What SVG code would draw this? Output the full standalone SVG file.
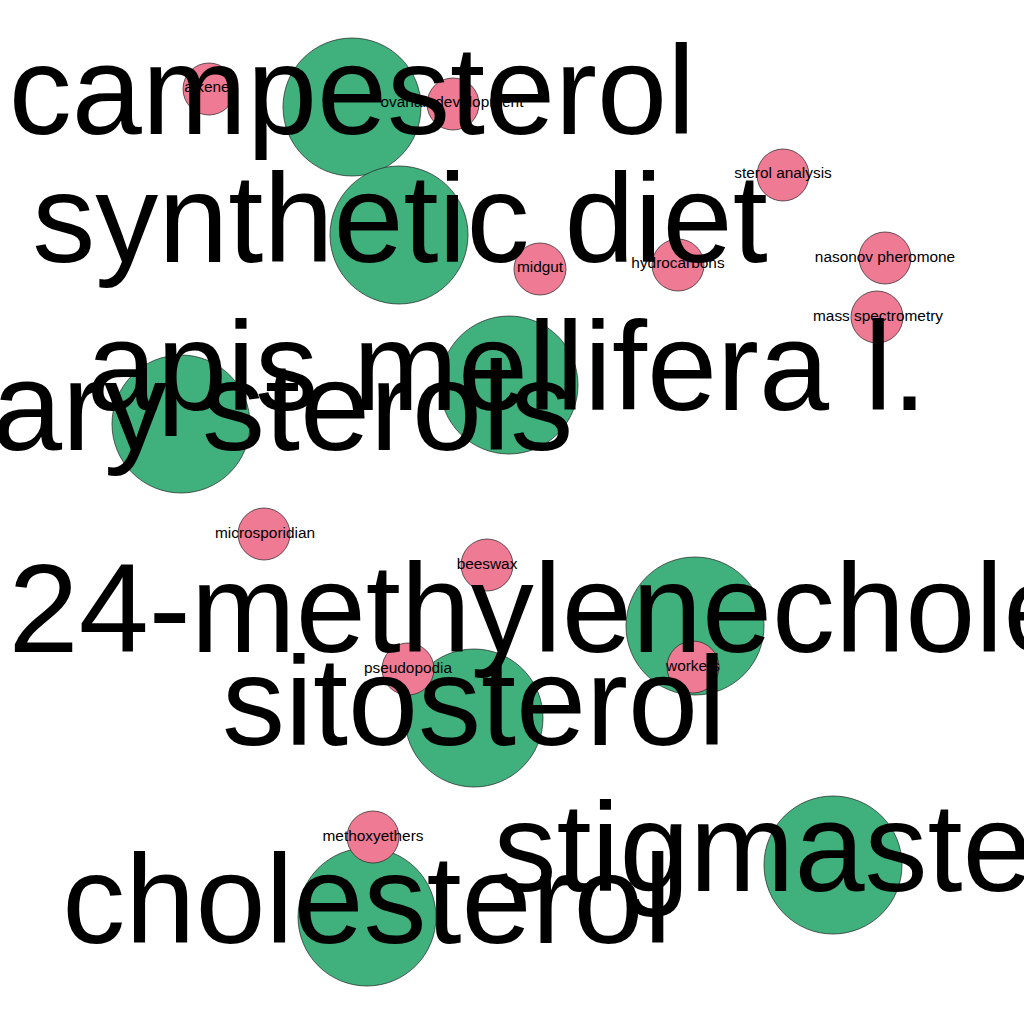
<svg xmlns="http://www.w3.org/2000/svg" width="1024" height="1024" viewBox="0 0 1024 1024">
<style>
.big{fill:#40B07D;stroke:#222;stroke-width:0.7}
.small{fill:#EE7A93;stroke:#222;stroke-width:0.7}
.bl{font-family:"Liberation Sans",Arial,sans-serif;font-size:126px;fill:#000;text-anchor:middle}
.sl{font-family:"Liberation Sans",Arial,sans-serif;font-size:15.4px;fill:#000;text-anchor:middle}
</style>
<rect width="1024" height="1024" fill="#fff"/>
<g id="connectors"/>
<g id="green-nodes">
<g id="node-campesterol"><circle class="big" cx="352" cy="107" r="69"/></g>
<g id="node-synthetic-diet"><circle class="big" cx="399" cy="235" r="69"/></g>
<g id="node-apis-mellifera"><circle class="big" cx="509" cy="385" r="69"/></g>
<g id="node-dietary-sterols"><circle class="big" cx="181" cy="424" r="69"/></g>
<g id="node-24-methylenecholesterol"><circle class="big" cx="695" cy="626" r="69"/></g>
<g id="node-sitosterol"><circle class="big" cx="474" cy="718" r="69"/></g>
<g id="node-stigmasterol"><circle class="big" cx="833" cy="865" r="69"/></g>
<g id="node-cholesterol"><circle class="big" cx="367" cy="917" r="69"/></g>
</g>
<g id="pink-nodes">
<g id="node-alkene"><circle class="small" cx="209" cy="89" r="26"/><text class="sl" x="207" y="92">alkene</text></g>
<g id="node-ovarian-development"><circle class="small" cx="453" cy="104" r="26"/><text class="sl" x="452" y="107">ovarian development</text></g>
<g id="node-sterol-analysis"><circle class="small" cx="783" cy="175" r="26"/><text class="sl" x="783" y="178">sterol analysis</text></g>
<g id="node-midgut"><circle class="small" cx="540" cy="269" r="26"/><text class="sl" x="540" y="272">midgut</text></g>
<g id="node-hydrocarbons"><circle class="small" cx="678" cy="265" r="26"/><text class="sl" x="678" y="268">hydrocarbons</text></g>
<g id="node-nasonov-pheromone"><circle class="small" cx="885" cy="258" r="26"/><text class="sl" x="885" y="262">nasonov pheromone</text></g>
<g id="node-mass-spectrometry"><circle class="small" cx="877" cy="317" r="26"/><text class="sl" x="878" y="321">mass spectrometry</text></g>
<g id="node-microsporidian"><circle class="small" cx="264" cy="534" r="26"/><text class="sl" x="265" y="538">microsporidian</text></g>
<g id="node-beeswax"><circle class="small" cx="487" cy="565" r="26"/><text class="sl" x="487" y="569">beeswax</text></g>
<g id="node-pseudopodia"><circle class="small" cx="408" cy="669" r="26"/><text class="sl" x="408" y="673">pseudopodia</text></g>
<g id="node-workers"><circle class="small" cx="693" cy="667" r="26"/><text class="sl" x="693" y="671">workers</text></g>
<g id="node-methoxyethers"><circle class="small" cx="373" cy="837" r="26"/><text class="sl" x="373" y="841">methoxyethers</text></g>
</g>
<g id="green-labels">
<text class="bl" x="352" y="134">campesterol</text>
<text class="bl" x="400" y="262">synthetic diet</text>
<text class="bl" x="507" y="410">apis mellifera l.</text>
<text class="bl" x="181" y="450">dietary sterols</text>
<text class="bl" x="695" y="652">24-methylenecholesterol</text>
<text class="bl" x="474" y="745">sitosterol</text>
<text class="bl" x="833" y="891">stigmasterol</text>
<text class="bl" x="367" y="943">cholesterol</text>
</g>
</svg>
